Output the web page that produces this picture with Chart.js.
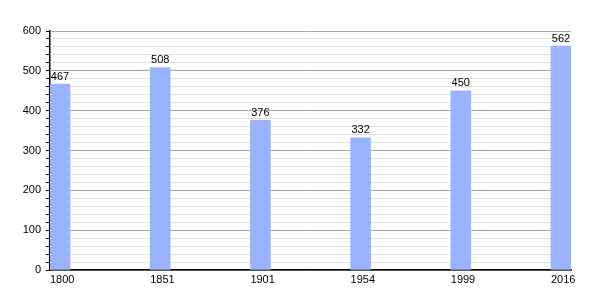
<!DOCTYPE html>
<html>
<head>
<meta charset="utf-8">
<script src="https://cdn.jsdelivr.net/npm/chart.js@4"></script>
<style>
  html, body { margin: 0; padding: 0; background: #fff; }
  #wrap { width: 600px; height: 300px; }
</style>
</head>
<body>
<div id="wrap"><canvas id="popChart"></canvas></div>
<script>
// Data
const years = ['1800', '1851', '1901', '1954', '1999', '2016'];
const population = [467, 508, 376, 332, 450, 562];
const yTicks = [0, 100, 200, 300, 400, 500, 600];

const barColor = '#99b3ff';
const fontFamily = '"Liberation Sans", Arial, sans-serif';

// bars sit at the start of each slot, so shift them a little to the right
const points = population.map((v, i) => ({ x: i + 0.1, y: v }));

// value labels on top of the bars
const valueLabels = {
    id: 'valueLabels',
    afterDatasetsDraw(chart) {
        const ctx = chart.ctx;
        const meta = chart.getDatasetMeta(0);
        ctx.save();
        ctx.font = '11px ' + fontFamily;
        ctx.fillStyle = '#000';
        ctx.textAlign = 'center';
        ctx.textBaseline = 'bottom';
        meta.data.forEach((bar, i) => {
            ctx.fillText(String(population[i]), bar.x, bar.y - 2);
        });
        ctx.restore();
    }
};

const ctx = document.getElementById('popChart').getContext('2d');
new Chart(ctx, {
    type: 'bar',
    data: {
        datasets: [{
            data: points,
            backgroundColor: barColor,
            borderWidth: 0,
            barThickness: 20
        }]
    },
    options: {
        responsive: true,
        maintainAspectRatio: false,
        animation: false,
        layout: { padding: { top: 31, right: 29, left: 0, bottom: 0 } },
        plugins: {
            legend: { display: false },
            tooltip: { enabled: false }
        },
        scales: {
            x: {
                type: 'linear',
                min: 0,
                max: 5.2,
                offset: false,
                afterBuildTicks: scale => {
                    scale.ticks = years.map((_, i) => ({ value: i }));
                },
                afterFit: scale => { scale.height = 30; },
                grid: { display: false, offset: false, drawTicks: false, tickLength: 0 },
                border: { display: true, color: '#000', width: 1.5 },
                ticks: {
                    align: 'start',
                    padding: 3,
                    maxRotation: 0,
                    autoSkip: false,
                    color: '#000',
                    font: { family: fontFamily, size: 11 },
                    callback: (v) => years[v] !== undefined ? years[v] : ''
                }
            },
            y: {
                min: 0,
                max: 600,
                afterFit: scale => { scale.width = 50; },
                ticks: {
                    stepSize: 20,
                    padding: 5,
                    autoSkip: false,
                    color: '#000',
                    font: { family: fontFamily, size: 11 },
                    callback: (v) => yTicks.includes(v) ? String(v) : ''
                },
                grid: {
                    color: c => (c.tick && c.tick.value % 100 === 0) ? '#a8a8a8' : '#e0e0e0',
                    tickColor: '#000',
                    tickLength: 4,
                    lineWidth: 1
                },
                border: { display: true, color: '#000', width: 1.5 }
            }
        }
    },
    plugins: [valueLabels]
});
</script>
</body>
</html>
